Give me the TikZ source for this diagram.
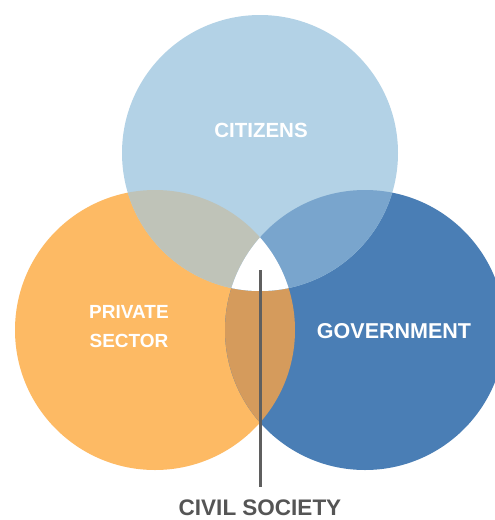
\documentclass[tikz,border=0pt]{standalone}
\usepackage{fontspec}
\setmainfont{Liberation Sans}
\definecolor{citz}{RGB}{179,210,230}
\definecolor{priv}{RGB}{253,186,100}
\definecolor{govt}{RGB}{74,126,181}
\definecolor{cpov}{RGB}{191,195,184}
\definecolor{cgov}{RGB}{121,165,205}
\definecolor{pgov}{RGB}{213,155,92}
\definecolor{linegray}{RGB}{95,95,95}
\definecolor{txtgray}{RGB}{85,85,85}
\tikzset{
  venn/.style={circle, minimum size=280pt, inner sep=0pt, draw=none},
  lbl/.style={text=white, font=\bfseries, align=center, inner sep=0pt},
}
\begin{document}
\begin{tikzpicture}[x=1pt,y=-1pt]
\useasboundingbox (0,0) rectangle (495,520);
\fill[white] (0,0) rectangle (495,520);
% circles
\node[venn, fill=priv, minimum size=280pt] (P) at (155,330) {};
\node[venn, fill=govt, minimum size=280pt] (G) at (365,330) {};
\node[venn, fill=citz, minimum size=276pt] (C) at (260,153) {};
% overlaps
\begin{scope}
  \clip (155,330) circle (140);
  \fill[pgov] (365,330) circle (140);
\end{scope}
\begin{scope}
  \clip (260,153) circle (138);
  \fill[cpov] (155,330) circle (140);
\end{scope}
\begin{scope}
  \clip (260,153) circle (138);
  \fill[cgov] (365,330) circle (140);
\end{scope}
\begin{scope}
  \clip (260,153) circle (138);
  \clip (155,330) circle (140);
  \fill[white] (365,330) circle (140);
\end{scope}
% labels
\node[lbl, font=\bfseries\fontsize{20.5}{22}\selectfont] (citl) at (261,130) {CITIZENS};
\node[lbl, font=\bfseries\fontsize{21.5}{23}\selectfont] (govl) at (394,331) {GOVERNMENT};
\node[lbl, font=\bfseries\fontsize{19}{29}\selectfont] (privl) at (129,327) {PRIVATE\\SECTOR};
\node[text=txtgray, font=\bfseries\fontsize{22.5}{24}\selectfont, anchor=base, inner sep=0pt] (civl) at (260,515) {CIVIL SOCIETY};
% pointer
\coordinate (ptop) at (260,270);
\coordinate (pbot) at (260,487);
\draw[linegray, line width=3pt] (ptop) -- (pbot);
\end{tikzpicture}
\end{document}
